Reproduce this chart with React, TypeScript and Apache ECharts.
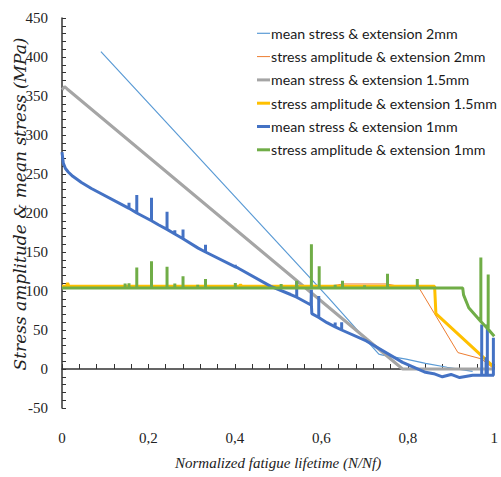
import React, { useEffect, useRef } from "react";
import * as echarts from "echarts";

// ---- data ----
const seriesNames = [
  "mean stress & extension 2mm",
  "stress amplitude & extension 2mm",
  "mean stress & extension 1.5mm",
  "stress amplitude & extension 1.5mm",
  "mean stress & extension 1mm",
  "stress amplitude & extension 1mm",
];
const seriesColors = ["#5B9BD5", "#ED7D31", "#A5A5A5", "#FFC000", "#4472C4", "#70AD47"];
const seriesWidths = [1.2, 1, 3, 3, 3, 3];

const xTicks = [0, 0.2, 0.4, 0.6, 0.8, 1];
const yTicks = [-50, 0, 50, 100, 150, 200, 250, 300, 350, 400, 450];

// mean stress, 2mm
const meanStress2mm: [number, number][] = [
  [0.09, 407], [0.613, 93.5], [0.733, 19], [0.742, 17.8], [0.796, 12.7],
  [0.841, 7.3], [0.891, 2.2], [0.95, -3],
];
// stress amplitude, 2mm
const ampStress2mm: [number, number][] = [
  [0, 106], [0.62, 106], [0.65, 109], [0.75, 109], [0.78, 106],
  [0.826, 104], [0.916, 21], [0.97, 13], [1.0, 0],
];
// mean stress, 1.5mm
const meanStress15mm: [number, number][] = [
  [0, 358], [0.006, 362], [0.012, 359], [0.788, 0], [1.0, 0],
];
// stress amplitude, 1.5mm
const ampStress15mm: [number, number][] = [
  [0, 106], [0.01, 106], [0.013, 110], [0.016, 106], [0.41, 106],
  [0.413, 108], [0.416, 106], [0.862, 106], [0.865, 71], [1.0, 2],
];
// mean stress, 1mm: base curve + spikes [x, base, top]
const meanStress1mm: [number, number][] = [
  [0, 278], [0.003, 264], [0.008, 257], [0.0144, 252.6], [0.025, 247],
  [0.045, 239], [0.068, 231.4], [0.155, 206], [0.224, 184.6], [0.315, 155],
  [0.407, 129.5], [0.483, 106], [0.529, 95.5], [0.543, 92], [0.576, 82],
  [0.578, 71], [0.613, 59.4], [0.704, 36], [0.788, 8.5], [0.841, -4.2],
  [0.86, -6], [0.88, -10], [0.9, -7], [0.92, -11], [0.95, -8], [1.0, -8.5],
];
const meanStress1mmSpikes: [number, number, number][] = [
  [0.155, 206, 213], [0.173, 200, 223], [0.207, 190, 219.5], [0.243, 179, 201.7],
  [0.261, 173, 178], [0.28, 167, 178.8], [0.332, 150, 159.2], [0.401, 131, 133.7],
  [0.543, 92, 112.6], [0.577, 82, 102], [0.594, 66, 93.5], [0.632, 54, 59.5],
  [0.647, 50, 60], [0.971, -8, 57], [0.981, -8, 15], [0.984, -8, 57], [0.998, -8, 40],
];
// stress amplitude, 1mm
const ampStress1mm: [number, number][] = [
  [0, 104], [0.927, 104], [0.929, 95], [0.941, 78.6], [1.0, 42],
];
const ampStress1mmSpikes: [number, number, number][] = [
  [0.146, 104, 109.5], [0.155, 104, 110], [0.173, 104, 130], [0.207, 104, 138],
  [0.243, 104, 131], [0.261, 104, 109.5], [0.28, 104, 119], [0.314, 104, 108],
  [0.332, 104, 115.5], [0.401, 104, 110.4], [0.507, 104, 109], [0.543, 104, 113],
  [0.577, 104, 160], [0.595, 104, 131.7], [0.632, 104, 108], [0.649, 104, 113],
  [0.7, 104, 107.5], [0.753, 104, 122], [0.822, 104, 115.5], [0.969, 61, 143],
  [0.986, 51, 121],
];

function withSpikes(base: [number, number][], spikes: [number, number, number][]) {
  const groups: { x: number; pts: [number, number][] }[] = [];
  base.forEach((p) => groups.push({ x: p[0], pts: [p] }));
  spikes.forEach((s) =>
    groups.push({ x: s[0], pts: [[s[0], s[1]], [s[0], s[2]], [s[0], s[1]]] })
  );
  groups.sort((a, b) => a.x - b.x);
  const out: [number, number][] = [];
  groups.forEach((g) => g.pts.forEach((p) => out.push(p)));
  return out;
}

const seriesData: [number, number][][] = [
  meanStress2mm,
  ampStress2mm,
  meanStress15mm,
  ampStress15mm,
  withSpikes(meanStress1mm, meanStress1mmSpikes),
  withSpikes(ampStress1mm, ampStress1mmSpikes),
];

export default function App() {
  const ref = useRef<HTMLDivElement>(null);
  useEffect(() => {
    if (!ref.current) return;
    const chart = echarts.init(ref.current, undefined, { renderer: "svg" });
    const serif = "Liberation Serif";
    const legendTop = 33.3;
    const legendStep = 23.3;
    const legendGraphics: any[] = [];
    seriesNames.forEach((name, i) => {
      const y = legendTop + legendStep * i;
      legendGraphics.push({
        type: "line",
        shape: { x1: 257, y1: y, x2: 270, y2: y },
        style: { stroke: seriesColors[i], lineWidth: seriesWidths[i] },
        z: 100,
      });
      legendGraphics.push({
        type: "text",
        x: 271,
        y: y,
        style: {
          text: name,
          fontFamily: "Lato",
          fontSize: 14.2,
          fill: "#1a1a1a",
          align: "left",
          verticalAlign: "middle",
        },
        z: 100,
      });
    });
    chart.setOption({
      animation: false,
      backgroundColor: "#ffffff",
      grid: { left: 62, right: 1, top: 18, bottom: 69, containLabel: false },
      legend: { show: false, data: seriesNames },
      xAxis: [
        {
          type: "value",
          min: 0,
          max: 1,
          interval: 0.2,
          axisLine: { show: true, onZero: true, lineStyle: { color: "#333", width: 1.5 } },
          axisTick: { show: true, inside: true, length: 5, lineStyle: { color: "#333" } },
          minorTick: { show: true, splitNumber: 5, length: 5, lineStyle: { color: "#333" } },
          axisLabel: { show: false },
          splitLine: { show: false },
        },
        {
          type: "value",
          position: "bottom",
          min: 0,
          max: 1,
          interval: 0.2,
          axisLine: { show: false, onZero: false },
          axisTick: { show: false },
          splitLine: { show: false },
          axisLabel: {
            show: true,
            margin: 22,
            fontFamily: serif,
            fontSize: 15,
            color: "#222",
            formatter: (v: number) => {
              const t = xTicks.find((k) => Math.abs(k - v) < 1e-9);
              return t === undefined ? "" : String(t).replace(".", ",");
            },
          },
          name: "Normalized fatigue lifetime (N/Nf)",
          nameLocation: "middle",
          nameGap: 47,
          nameTextStyle: { fontFamily: serif, fontStyle: "italic", fontSize: 15, color: "#222" },
        },
      ],
      yAxis: {
        type: "value",
        min: yTicks[0],
        max: yTicks[yTicks.length - 1],
        interval: 50,
        axisLine: { show: true, onZero: false, lineStyle: { color: "#333", width: 1.5 } },
        axisTick: { show: true, inside: true, length: 4, lineStyle: { color: "#333" } },
        minorTick: { show: true, splitNumber: 5, length: 4, lineStyle: { color: "#333" } },
        splitLine: { show: false },
        axisLabel: { margin: 14, fontFamily: serif, fontSize: 15, color: "#222" },
      },
      graphic: [
        {
          type: "text",
          x: 20,
          y: 204,
          rotation: Math.PI / 2,
          style: {
            text: "Stress amplitude & mean stress (MPa)",
            fontFamily: "DejaVu Serif",
            fontStyle: "italic",
            fontSize: 17,
            fill: "#222",
            align: "center",
            verticalAlign: "middle",
          },
        },
        ...legendGraphics,
      ],
      series: seriesNames.map((name, i) => ({
        name,
        type: "line",
        xAxisIndex: 0,
        data: seriesData[i],
        symbol: "none",
        showSymbol: false,
        lineStyle: { color: seriesColors[i], width: seriesWidths[i] },
        itemStyle: { color: seriesColors[i] },
        z: 2 + i,
      })),
    });
    return () => chart.dispose();
  }, []);
  return (
    <div
      ref={ref}
      style={{ position: "fixed", left: 0, top: 0, width: 501, height: 477 }}
    />
  );
}
